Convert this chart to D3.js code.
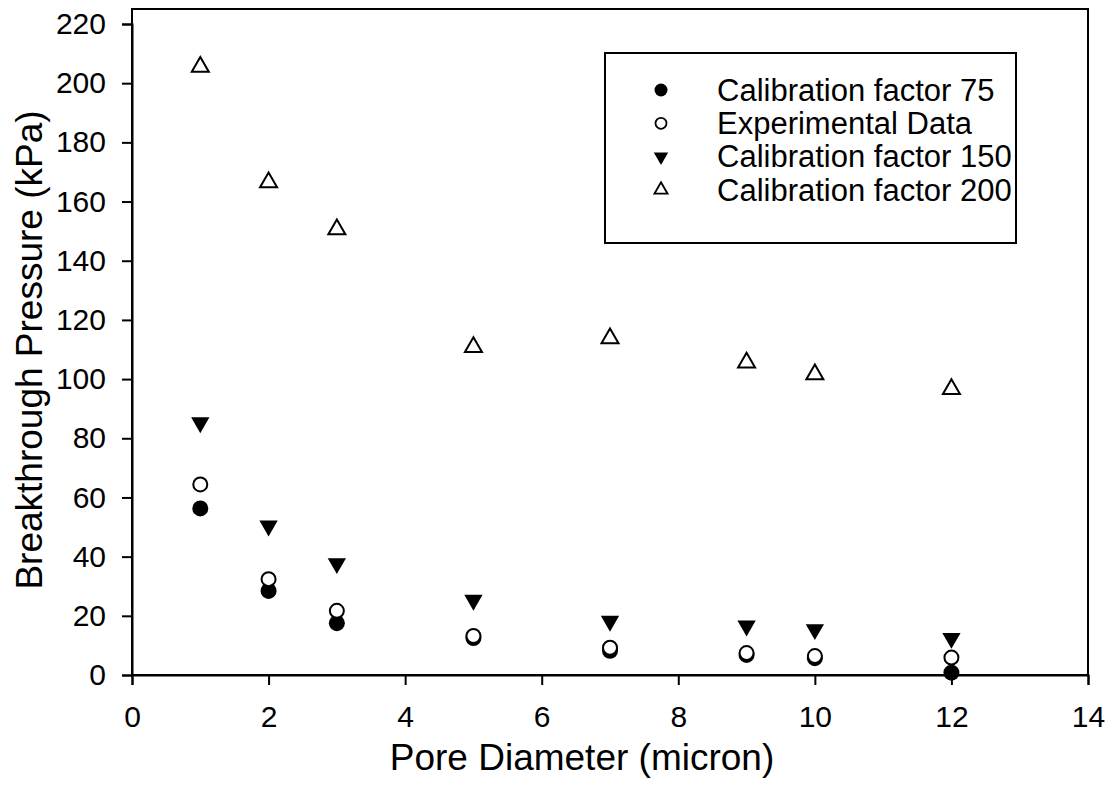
<!DOCTYPE html>
<html>
<head>
<meta charset="utf-8">
<script src="https://cdn.jsdelivr.net/npm/d3@7"></script>
<style>
  body { margin: 0; background: #fff; }
  svg text { font-family: "Liberation Sans", Arial, sans-serif; fill: #000; }
</style>
</head>
<body>
<div id="chart"></div>
<script>
// Dades llegides del gràfic
const poreDiameter = [1, 2, 3, 5, 7, 9, 10, 12];
const calib75 = [56.3, 28.4, 17.5, 12.5, 8.2, 6.8, 5.7, 0.8];
const experimental = [64.4, 32.4, 21.7, 13.2, 9.2, 7.4, 6.4, 5.9];
const calib150 = [85.3, 50.4, 37.7, 25.3, 18.2, 16.6, 15.4, 12.4];
const calib200 = [205.5, 166.5, 150.6, 110.8, 113.8, 105.6, 101.6, 96.6];

const xTicks = [0, 2, 4, 6, 8, 10, 12, 14];
const yTicks = [0, 20, 40, 60, 80, 100, 120, 140, 160, 180, 200, 220];

const seriesNames = ["Calibration factor 75", "Experimental Data", "Calibration factor 150", "Calibration factor 200"];
const seriesValues = [calib75, experimental, calib150, calib200];

const W = 1112, H = 787;
const svg = d3.select("#chart").append("svg").attr("width", W).attr("height", H);

// Escales
const x = d3.scaleLinear().domain([0, 14]).range([132, 1088]);
const y = d3.scaleLinear().domain([0, 220]).range([675, 24]);

// Estils dels marcadors
const markerStyles = [
  { type: d3.symbolCircle, size: Math.PI * 8 * 8, fill: "#000", stroke: "none", rot: 0, lsize: Math.PI * 6.5 * 6.5 },
  { type: d3.symbolCircle, size: Math.PI * 7 * 7, fill: "#fff", stroke: "#000", rot: 0, lsize: Math.PI * 5.5 * 5.5 },
  { type: d3.symbolTriangle, size: 145, fill: "#000", stroke: "none", rot: 180, lsize: 90 },
  { type: d3.symbolTriangle, size: 125, fill: "#fff", stroke: "#000", rot: 0, lsize: 75 }
];

// Marc del gràfic
svg.append("rect")
  .attr("x", x(0)).attr("y", 9)
  .attr("width", x(14) - x(0)).attr("height", y(0) - 9)
  .attr("fill", "none").attr("stroke", "#000").attr("stroke-width", 2);

// Eix Y
const yAxis = svg.append("g")
  .attr("transform", `translate(${x(0)},0)`)
  .call(d3.axisLeft(y).tickValues(yTicks).tickSize(10).tickPadding(16));
yAxis.select(".domain").attr("stroke-width", 2);
yAxis.selectAll(".tick line").attr("stroke-width", 2);
yAxis.selectAll(".tick text").attr("font-size", 30).attr("font-family", "Liberation Sans, Arial");

// Eix X
const xAxis = svg.append("g")
  .attr("transform", `translate(0,${y(0)})`)
  .call(d3.axisBottom(x).tickValues(xTicks).tickSize(10).tickPadding(21));
xAxis.select(".domain").attr("stroke-width", 2);
xAxis.selectAll(".tick line").attr("stroke-width", 2);
xAxis.selectAll(".tick text").attr("font-size", 30).attr("font-family", "Liberation Sans, Arial");

// Títols dels eixos
svg.append("text")
  .attr("x", 582).attr("y", 770)
  .attr("text-anchor", "middle")
  .attr("font-size", 37)
  .text("Pore Diameter (micron)");

svg.append("text")
  .attr("transform", `translate(42,350) rotate(-90)`)
  .attr("text-anchor", "middle")
  .attr("font-size", 37)
  .text("Breakthrough Pressure (kPa)");

// Punts de dades
seriesValues.forEach((vals, i) => {
  const st = markerStyles[i];
  svg.append("g").selectAll("path")
    .data(poreDiameter.map((d, j) => ({ x: d, y: vals[j] })))
    .join("path")
    .attr("d", d3.symbol().type(st.type).size(st.size))
    .attr("transform", d => `translate(${x(d.x)},${y(d.y)}) rotate(${st.rot})`)
    .attr("fill", st.fill)
    .attr("stroke", st.stroke)
    .attr("stroke-width", 2);
});

// Llegenda
const legend = svg.append("g");
legend.append("rect")
  .attr("x", 605).attr("y", 53).attr("width", 411).attr("height", 190)
  .attr("fill", "#fff").attr("stroke", "#000").attr("stroke-width", 2);

seriesNames.forEach((name, i) => {
  const st = markerStyles[i];
  const ly = 90 + i * 33.3;
  legend.append("path")
    .attr("d", d3.symbol().type(st.type).size(st.lsize))
    .attr("transform", `translate(661,${ly}) rotate(${st.rot})`)
    .attr("fill", st.fill)
    .attr("stroke", st.stroke)
    .attr("stroke-width", 1.8);
  legend.append("text")
    .attr("x", 717).attr("y", ly)
    .attr("dy", "0.35em")
    .attr("font-size", 31)
    .text(name);
});
</script>
</body>
</html>
